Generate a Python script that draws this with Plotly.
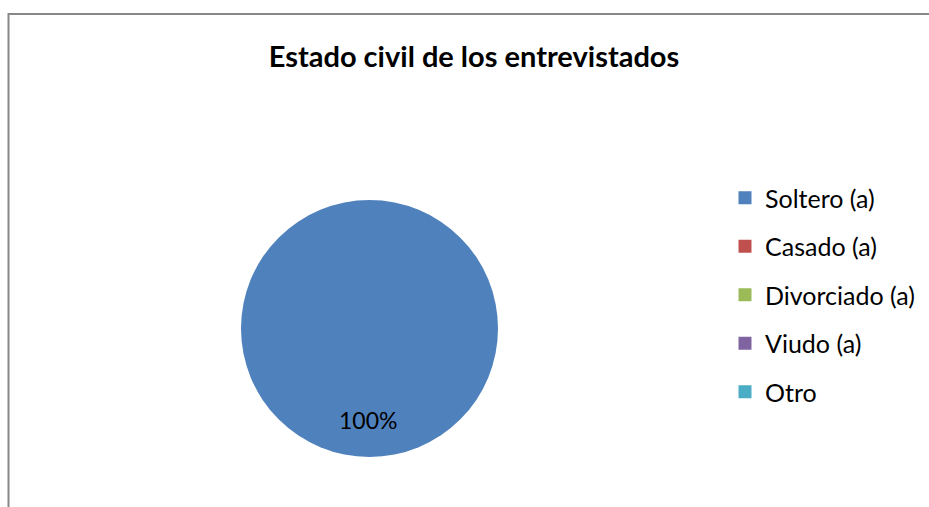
import math
import plotly.graph_objects as go

categories = ["Soltero (a)", "Casado (a)", "Divorciado (a)", "Viudo (a)", "Otro"]
values = [100, 0, 0, 0, 0]
colors = ["#4F81BD", "#C0504D", "#9BBB59", "#8064A2", "#4BACC6"]
title_text = "Estado civil de los entrevistados"

W, H = 929, 507
FONT = "Lato, 'Open Sans', sans-serif"

# pie geometry (paper coordinates)
dom_x = [241 / W, 498 / W]
dom_y = [(H - 457) / H, (H - 200) / H]

fig = go.Figure()
fig.add_trace(go.Pie(
    labels=categories, values=values, sort=False, direction="clockwise",
    rotation=0, marker=dict(colors=colors, line=dict(width=0)),
    textinfo="none", hoverinfo="label+percent", showlegend=False,
    domain=dict(x=dom_x, y=dom_y),
))

# legend entries (one per category)
for i, (c, col) in enumerate(zip(categories, colors)):
    fig.add_trace(go.Scatter(
        x=[None], y=[None], mode="markers", name=c, legendgroup=f"g{i}",
        marker=dict(symbol="square", size=13, color=col),
    ))

# percentage labels at slice mid-angles
total = sum(values)
cx = (dom_x[0] + dom_x[1]) / 2 * W
cy = (dom_y[0] + dom_y[1]) / 2 * H
r = (dom_x[1] - dom_x[0]) / 2 * W
cum = 0
for v in values:
    if v > 0:
        theta = 2 * math.pi * (cum + v / 2) / total
        px = cx + 0.71 * r * math.sin(theta)
        py = cy + 0.71 * r * math.cos(theta)
        fig.add_annotation(
            x=px / W - 2 / W, y=py / H, xref="paper", yref="paper",
            text=f"{round(100 * v / total)}%", showarrow=False,
            font=dict(family=FONT, size=23, color="#000000"),
            xanchor="center", yanchor="middle",
        )
    cum += v

fig.add_shape(type="rect", xref="paper", yref="paper",
              x0=8.5 / W, x1=1.05, y0=-0.05, y1=(H - 14) / H,
              line=dict(color="#878787", width=2), fillcolor="rgba(0,0,0,0)")

fig.update_layout(
    width=W, height=H,
    margin=dict(l=0, r=0, t=0, b=0),
    paper_bgcolor="white", plot_bgcolor="white",
    title=dict(text=title_text, x=474 / W, xanchor="center",
               y=1 - 57 / H, yanchor="middle",
               font=dict(family=FONT, size=29, color="#000000", weight="bold")),
    xaxis=dict(visible=False), yaxis=dict(visible=False),
    legend=dict(x=725 / W, y=1 - 175 / H, xanchor="left", yanchor="top",
                traceorder="grouped", tracegroupgap=13,
                font=dict(family=FONT, size=25, color="#000000"),
                itemsizing="trace", bgcolor="rgba(0,0,0,0)"),
    showlegend=True,
)

fig.write_html("out.html")
